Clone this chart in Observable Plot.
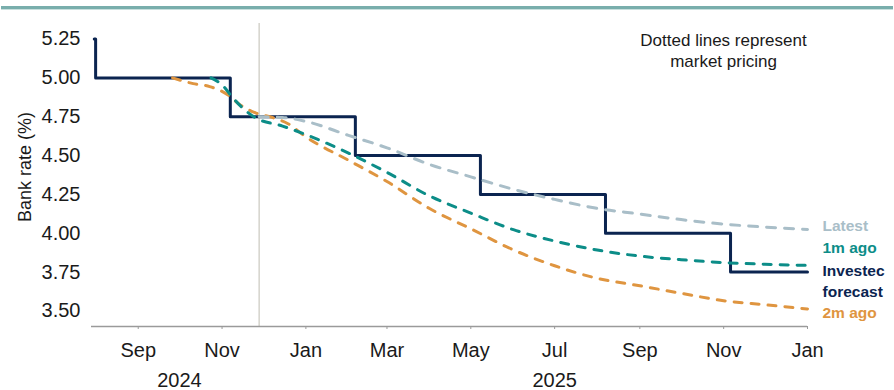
<!DOCTYPE html>
<html><head><meta charset="utf-8">
<script src="https://cdn.jsdelivr.net/npm/d3@7"></script>
<script src="https://cdn.jsdelivr.net/npm/@observablehq/plot@0.6"></script>
<style>
html,body{margin:0;padding:0;background:#fff;}
#wrap{position:relative;width:894px;height:390px;overflow:hidden;}
#topbar{position:absolute;left:1px;right:1px;top:6px;height:3px;background:#79aeac;border-bottom:1px solid #c9e0de;}
</style></head><body><div id="wrap"></div>
<script>
// ---- data ----
const investecDates = ["2024-07-31","2024-08-01","2024-11-07","2025-02-06","2025-05-08","2025-08-07","2025-11-06","2026-01-01"];
const investecRates = [5.25,5.00,4.75,4.50,4.25,4.00,3.75,3.75];

const latestDates = ["2024-11-28","2024-12-15","2025-01-01","2025-02-01","2025-03-01","2025-04-01","2025-05-01","2025-06-01","2025-07-01","2025-08-01","2025-09-01","2025-10-01","2025-11-01","2025-12-01","2026-01-01"];
const latestRates = [4.75,4.745,4.72,4.63,4.55,4.443,4.363,4.283,4.218,4.16,4.124,4.088,4.059,4.04,4.024];

const oneMDates = ["2024-10-24","2024-11-01","2024-11-09","2024-11-18","2024-11-25","2024-12-15","2025-01-01","2025-02-01","2025-03-01","2025-04-01","2025-05-01","2025-06-01","2025-07-01","2025-08-01","2025-09-01","2025-10-01","2025-11-01","2025-12-01","2026-01-01"];
const oneMRates = [5.00,4.955,4.87,4.79,4.745,4.69,4.635,4.516,4.392,4.24,4.13,4.023,3.95,3.892,3.853,3.83,3.811,3.801,3.793];

const twoMDates = ["2024-09-26","2024-10-11","2024-10-23","2024-11-06","2024-11-13","2024-11-25","2024-12-08","2024-12-19","2025-01-01","2025-02-01","2025-03-01","2025-04-01","2025-05-01","2025-06-01","2025-07-01","2025-08-01","2025-09-01","2025-10-01","2025-11-01","2025-12-01","2026-01-01"];
const twoMRates = [5.00,4.963,4.944,4.886,4.834,4.776,4.744,4.705,4.62,4.47,4.333,4.159,4.029,3.893,3.791,3.71,3.662,3.614,3.566,3.54,3.513];

const yTicks = [3.50,3.75,4.00,4.25,4.50,4.75,5.00,5.25];
const yearTickDates = ["2024-10-01","2025-07-01"];
const markerDate = "2024-11-28";
const yLabel = "Bank rate (%)";
const note = "Dotted lines represent\nmarket pricing";

// ---- build ----
const parse = d3.utcParse("%Y-%m-%d");
const toRows = (dates, rates, name) => dates.map((d, i) => ({date: parse(d), rate: rates[i], series: name}));
const investec = toRows(investecDates, investecRates, "Investec\nforecast");
const markets = [
  {name: "2m ago", rows: toRows(twoMDates, twoMRates, "2m ago"), color: "#df9540", dash: "8,9", dy: 4},
  {name: "1m ago", rows: toRows(oneMDates, oneMRates, "1m ago"), color: "#0c8d88", dash: "8,9", dy: -17},
  {name: "Latest", rows: toRows(latestDates, latestRates, "Latest"), color: "#a9bec8", dash: "9,9", dy: -4}
];
const navy = "#0b2450";
const font = "'Liberation Sans', Arial, sans-serif";

const marks = [
  Plot.ruleX([parse(markerDate)], {stroke: "#d5d3cc", strokeWidth: 1.5}),
  Plot.ruleY([3.40], {stroke: "#9a9a9a", strokeWidth: 1.5}),
  Plot.axisX({ticks: d3.utcMonth.every(2), tickFormat: d3.utcFormat("%b"), fontSize: 20, tickSize: 3, tickPadding: 13, stroke: "#9a9a9a", fill: "#1a1a1a", label: null}),
  Plot.axisX(yearTickDates.map(parse), {tickFormat: d3.utcFormat("%Y"), fontSize: 20, tickSize: 0, tickPadding: 46, fill: "#1a1a1a", label: null}),
  Plot.axisY(yTicks, {tickFormat: d3.format(".2f"), fontSize: 20, tickSize: 0, tickPadding: 11, fill: "#1a1a1a", label: null}),
  Plot.text([yLabel], {frameAnchor: "left", dx: -66, dy: -8, rotate: -90, textAnchor: "middle", lineAnchor: "middle", fontSize: 18, fill: "#1a1a1a"}),
  Plot.text([note], {frameAnchor: "top", dx: 274, dy: 26, textAnchor: "middle", lineAnchor: "middle", fontSize: 17, lineHeight: 1.25, fill: "#1a1a1a"}),
  Plot.line(investec, {x: "date", y: "rate", curve: "step-after", stroke: navy, strokeWidth: 3})
];
for (const m of markets) {
  marks.push(Plot.line(m.rows, {x: "date", y: "rate", curve: "monotone-x", stroke: m.color, strokeWidth: 3, strokeDasharray: m.dash}));
}
for (const m of markets) {
  marks.push(Plot.text([m.rows[m.rows.length - 1]], {x: "date", y: "rate", text: "series", dx: 15, dy: m.dy, textAnchor: "start", lineAnchor: "middle", fontSize: 15.5, fontWeight: "bold", fill: m.color}));
}
marks.push(Plot.text([investec[investec.length - 1]], {x: "date", y: "rate", text: "series", dx: 15, dy: 8, textAnchor: "start", lineAnchor: "middle", fontSize: 15.5, fontWeight: "bold", lineHeight: 1.35, fill: navy}));

const chart = Plot.plot({
  width: 894, height: 390,
  marginLeft: 91, marginRight: 87, marginTop: 23, marginBottom: 64,
  style: {fontFamily: font, background: "#fff", overflow: "visible"},
  x: {type: "utc", domain: [parse("2024-07-29"), parse("2026-01-01")]},
  y: {domain: [3.40, 5.35]},
  marks
});
const wrap = document.getElementById("wrap");
wrap.appendChild(chart);
const bar = document.createElement("div");
bar.id = "topbar";
wrap.appendChild(bar);
</script>
</body></html>
